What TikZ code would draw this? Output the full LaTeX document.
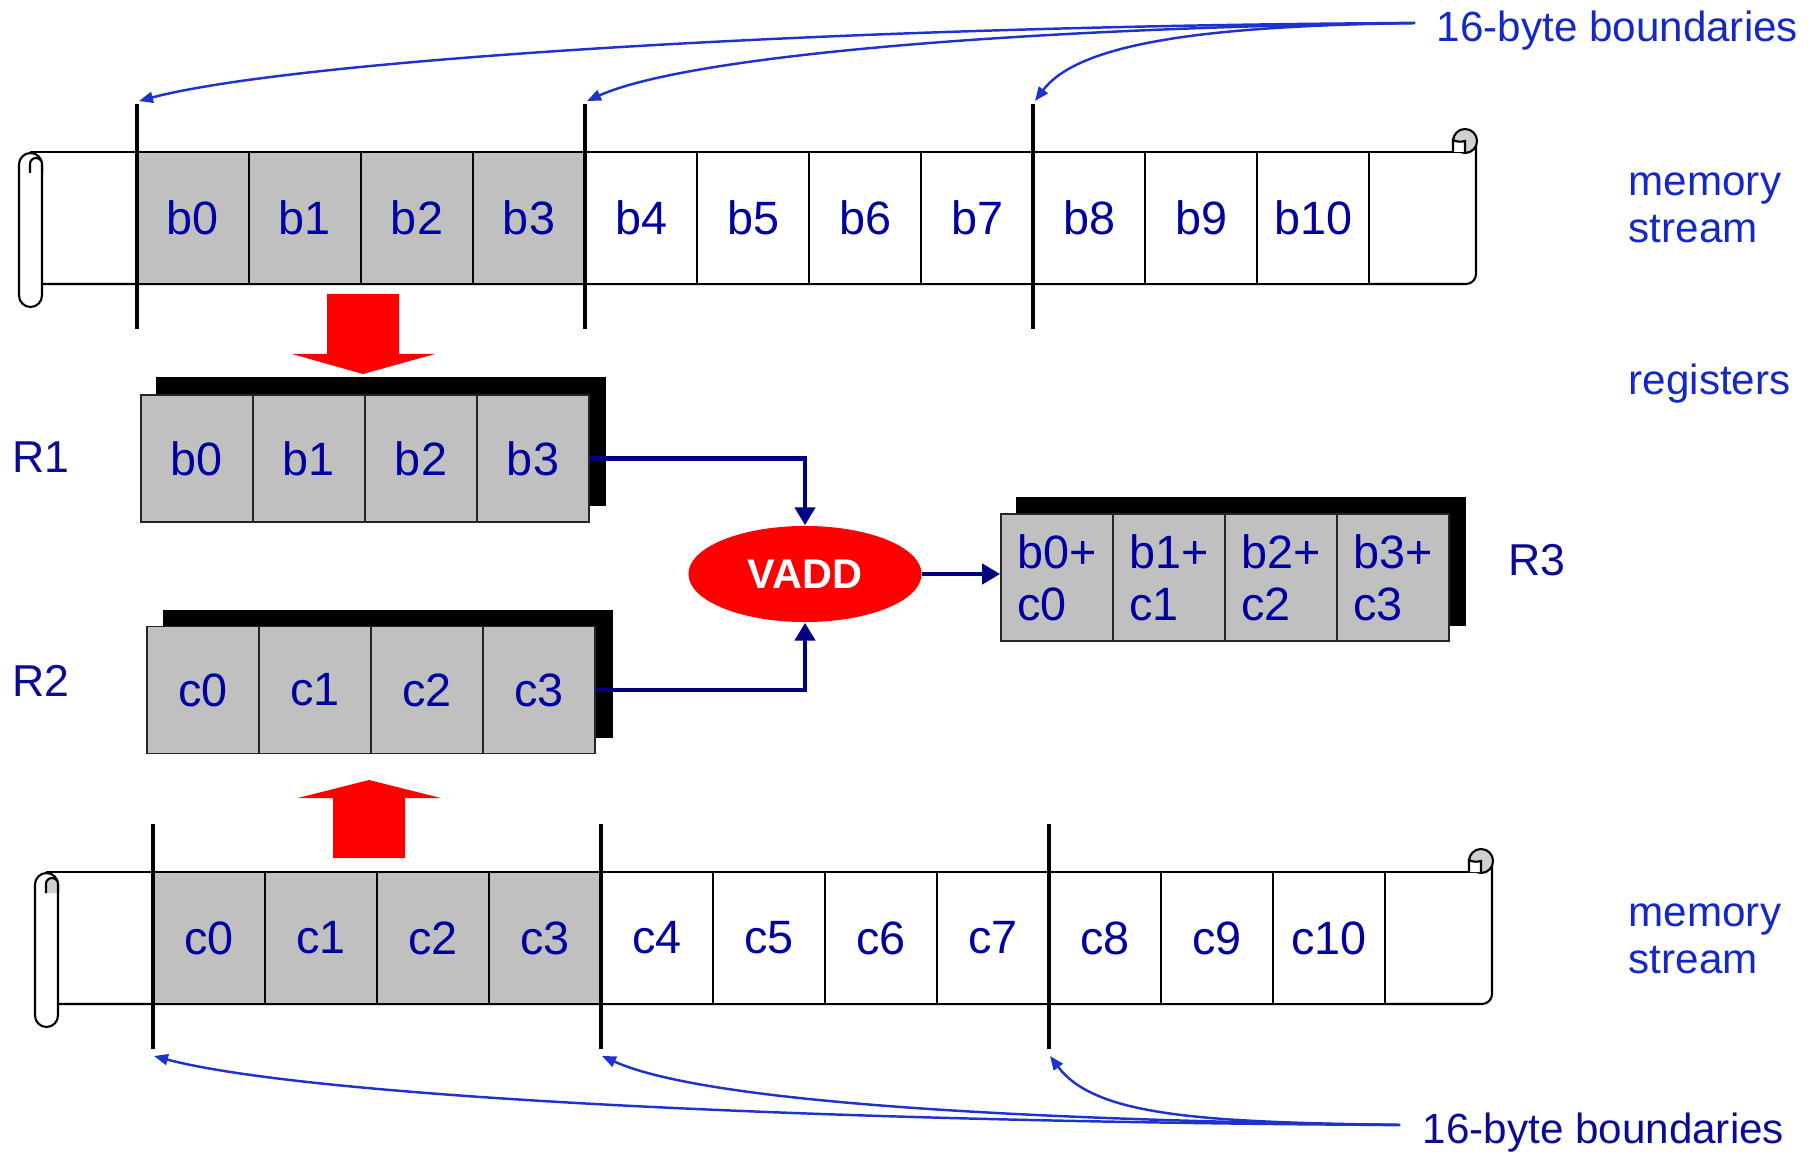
\documentclass[tikz,border=0pt]{standalone}
\usepackage{fontspec}
\setmainfont{Liberation Sans}
\usetikzlibrary{arrows.meta, shapes.geometric, backgrounds}

\definecolor{cellgray}{RGB}{192,192,192}
\definecolor{curlgray}{RGB}{208,208,208}
\definecolor{cellblue}{RGB}{0,0,160}
\definecolor{noteblue}{RGB}{20,40,200}
\definecolor{navyblue}{RGB}{10,10,150}
\definecolor{linkblue}{RGB}{0,0,128}
\definecolor{bndblue}{RGB}{30,50,205}

% paper sheet with a roll on each end
\newcommand{\memscroll}[1]{%
  \draw[sheet] (30,999) -- (1465,999);
  \draw[sheet, rounded corners=0.1cm] (1476,1010) -- (1476,867) -- (42,867);
  \draw[sheet, fill=white, rounded corners=0.115cm] (19,844) rectangle (42,998);
  \draw[sheet, fill=#1] (30,978) -- (30,987) arc[start angle=180, end angle=0, radius=0.06cm] -- (42,978);
  \draw[sheet, fill=curlgray] (1465,1010) circle[radius=0.12cm];
  \draw[sheet, fill=white] (1453,999) -- (1453,1011) to[bend right=20] (1465,1010) -- (1465,999);
}

\begin{document}
\begin{tikzpicture}[x=0.01cm, y=0.01cm,
    sheet/.style={line width=0.6pt},
    cell/.style={draw=black, line width=0.6pt, minimum width=1.12cm, minimum height=1.32cm,
      inner sep=0pt, text=cellblue, font=\fontsize{13.3}{14.8}\selectfont},
    regcell/.style={cell, draw=black!85, line width=0.5pt, fill=cellgray, minimum height=1.27cm},
    bound/.style={line width=1.2pt},
    note/.style={anchor=west, inner sep=0pt, text=noteblue, align=left,
      font=\fontsize{12}{13.2}\selectfont},
    reglabel/.style={anchor=west, inner sep=0pt, text=navyblue, font=\fontsize{12.7}{14}\selectfont},
    link/.style={linkblue, line width=1.3pt, -{Triangle[length=0.18cm, width=0.2cm]}},
    bnd/.style={bndblue, line width=0.7pt, -{Triangle[length=0.14cm, width=0.11cm]}}]
  \useasboundingbox (0,0) rectangle (1819,1151);

  % memory stream b
  \memscroll{white}
  \foreach \i in {0,...,3}
    \node[cell, fill=cellgray] (b\i) at (193+112*\i,933) {b\i};
  \foreach \i in {4,...,10}
    \node[cell, fill=white] (b\i) at (193+112*\i,933) {b\i};
  \foreach \x/\n in {137/0,585/1,1033/2} {
    \draw[bound] (\x,822) -- (\x,1047);
    \coordinate (t\n) at (\x+2,1050);
  }

  % memory stream c
  \begin{scope}[shift={(16,-720)}]
    \memscroll{curlgray}
    \foreach \i in {0,...,3}
      \node[cell, fill=cellgray] (c\i) at (193+112*\i,933) {c\i};
    \foreach \i in {4,...,10}
      \node[cell, fill=white] (c\i) at (193+112*\i,933) {c\i};
    \foreach \x/\n in {137/0,585/1,1033/2} {
      \draw[bound] (\x,822) -- (\x,1047);
      \coordinate (d\n) at (\x+1,815);
    }
  \end{scope}

  % load / store
  \fill[red] (327,857) -- (399,857) -- (399,797) -- (435,797) -- (363,777) -- (292,797) -- (327,797) -- cycle;
  \fill[red] (333,293) -- (405,293) -- (405,353) -- (441,353) -- (369,371) -- (298,353) -- (333,353) -- cycle;

  % registers
  \foreach \i in {0,...,3} {
    \node[regcell] (r1-\i) at (197+112*\i,692.5) {b\i};
    \node[regcell] (r2-\i) at (203+112*\i,461) {c\i};
    \node[regcell, align=left] (r3-\i) at (1057+112*\i,573.5) {b\i+\\c\i};
  }
  \begin{scope}[on background layer]
    \fill ([shift={(16,17)}]r1-0.south west) rectangle ([shift={(16,17)}]r1-3.north east);
    \fill ([shift={(17,16)}]r2-0.south west) rectangle ([shift={(17,16)}]r2-3.north east);
    \fill ([shift={(16,16)}]r3-0.south west) rectangle ([shift={(16,16)}]r3-3.north east);
  \end{scope}
  \node[reglabel] (R1) at (12,694) {R1};
  \node[reglabel] (R2) at (12,470) {R2};
  \node[reglabel] (R3) at (1508,591) {R3};

  % adder
  \node[ellipse, fill=red, minimum width=2.33cm, minimum height=0.96cm, inner sep=0pt,
    text=white, font=\bfseries\fontsize{11.8}{13}\selectfont] (vadd) at (805,577) {VADD};
  \draw[link] (r1-3.east) -| (vadd.north);
  \draw[link] (r2-3.east) -| (vadd.south);
  \draw[link] (vadd.east) -- (vadd.east -| r3-0.west);

  % side notes
  \node[note] (mem1) at (1628,943) {memory\\stream};
  \node[note] (regs) at (1628,767) {registers};
  \node[note] (mem2) at (1628,212) {memory\\stream};
  \node[note, inner xsep=0.21cm] (topnote) at (1415,1120) {16-byte boundaries};
  \node[note, text=navyblue, inner xsep=0.22cm] (botnote) at (1400,18.5) {16-byte boundaries};

  % boundary pointers
  \draw[bnd] ([yshift=0.08cm]topnote.west) .. controls +(-600,-3) and +(150,40) .. (t0);
  \draw[bnd] ([yshift=0.08cm]topnote.west) .. controls +(-400,-5) and +(100,45) .. (t1);
  \draw[bnd] ([yshift=0.08cm]topnote.west) .. controls +(-200,-3) and +(45,60) .. (t2);
  \draw[bnd] ([yshift=0.075cm]botnote.west) .. controls +(-600,3) and +(150,-40) .. (d0);
  \draw[bnd] ([yshift=0.075cm]botnote.west) .. controls +(-400,5) and +(100,-45) .. (d1);
  \draw[bnd] ([yshift=0.075cm]botnote.west) .. controls +(-200,3) and +(45,-60) .. (d2);
\end{tikzpicture}
\end{document}
